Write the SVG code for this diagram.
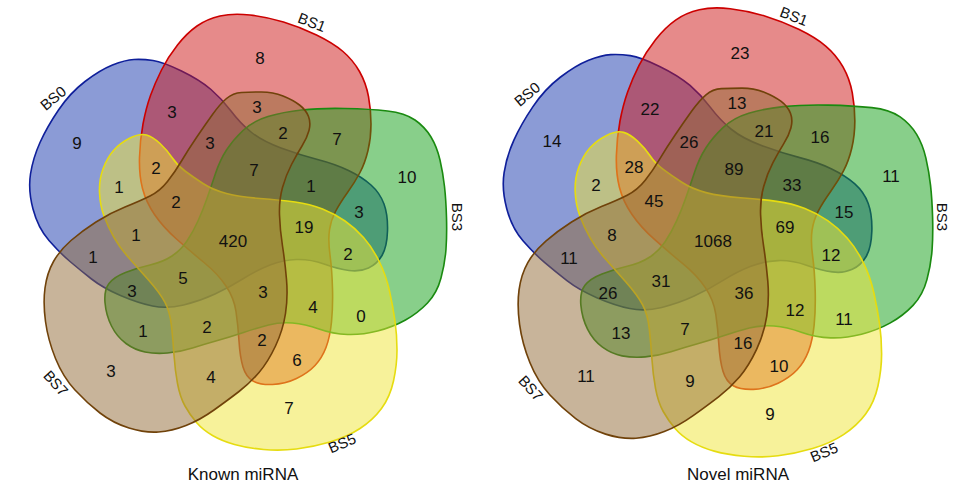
<svg xmlns="http://www.w3.org/2000/svg" xmlns:xlink="http://www.w3.org/1999/xlink" width="957" height="486" viewBox="0 0 957 486">
<style>
.s{stroke-width:1.6;fill-opacity:0.5;stroke-linejoin:round}
.b0{fill:#1737ad;stroke:#0f1f9a}
.b1{fill:#cd1515;stroke:#cc0000}
.b3{fill:#119f15;stroke:#1a8a10}
.b5{fill:#efe535;stroke:#e6dc10}
.b7{fill:#916935;stroke:#70420a}
text{font-family:"Liberation Sans",Arial,sans-serif;fill:#111}
.n{font-size:17px;text-anchor:middle}
.l{font-size:15px;text-anchor:middle;dominant-baseline:central}
.t{font-size:17px;text-anchor:middle}
</style>
<defs>
<path id="p0" d="M 153,60.5 Q 163,62 181.5,71 Q 200,80 211,89.5 Q 222,99 231,111 Q 240,123 251,132 Q 262,141 281,148 Q 300,155 317.5,159.5 Q 335,164 348.5,170.5 Q 362,177 371,185 Q 380,193 384,204 Q 388,215 387.5,231 Q 387,247 382,255.5 Q 377,264 368.5,268 Q 360,272 349,270.5 Q 338,269 324,264 Q 310,259 296.5,259.5 Q 283,260 270,265 Q 257,270 243.5,278.5 Q 230,287 215,294 Q 200,301 183.5,305 Q 167,309 152.5,306 Q 138,303 120.5,295.5 Q 103,288 91.5,279 Q 80,270 70,261.5 Q 60,253 49,240.5 Q 38,228 33,209 Q 28,190 30.5,174 Q 33,158 40,142.5 Q 47,127 58.5,110 Q 70,93 85,81.5 Q 100,70 112.5,65 Q 125,60 134,59.5 Q 143,59 153,60.5 Z"/>
<path id="p1" d="M 250,15 Q 267,17 283.5,22 Q 300,27 316.5,35 Q 333,43 343,51.5 Q 353,60 359.5,71.5 Q 366,83 368.5,96.5 Q 371,110 371,124 Q 371,138 368,150.5 Q 365,163 360,172.5 Q 355,182 347.5,192.5 Q 340,203 335.5,211.5 Q 331,220 329.5,230 Q 328,240 330,255 Q 332,270 332.5,288.5 Q 333,307 331.5,322 Q 330,337 326,347.5 Q 322,358 315,365.5 Q 308,373 296.5,378.5 Q 285,384 272.5,384.5 Q 260,385 253,381 Q 246,377 243,367 Q 240,357 239,341 Q 238,325 236,311.5 Q 234,298 226,286 Q 218,274 204,262.5 Q 190,251 176.5,239 Q 163,227 154.5,214.5 Q 146,202 142.5,188.5 Q 139,175 139.5,157.5 Q 140,140 143,124 Q 146,108 150.5,95.5 Q 155,83 161.5,70 Q 168,57 177.5,45 Q 187,33 197,26 Q 207,19 220,16 Q 233,13 250,15 Z"/>
<path id="p3" d="M 243,130.5 Q 253,121 268,116.5 Q 283,112 301.5,110 Q 320,108 345,108.5 Q 370,109 387.5,111 Q 405,113 415,120 Q 425,127 431,137 Q 437,147 440,160 Q 443,173 444.5,186.5 Q 446,200 446.5,217.5 Q 447,235 446,249 Q 445,263 441,278 Q 437,293 427.5,303 Q 418,313 405.5,320 Q 393,327 377.5,331 Q 362,335 347.5,334.5 Q 333,334 319,329 Q 305,324 292.5,323 Q 280,322 268.5,325 Q 257,328 243.5,332.5 Q 230,337 217.5,340.5 Q 205,344 192.5,348 Q 180,352 167.5,353 Q 155,354 145,352 Q 135,350 126,343.5 Q 117,337 111.5,326 Q 106,315 105,302.5 Q 104,290 109,283.5 Q 114,277 125.5,272.5 Q 137,268 150,265 Q 163,262 172,256 Q 181,250 187,241 Q 193,232 198,221 Q 203,210 207,198.5 Q 211,187 215.5,173.5 Q 220,160 226.5,150 Q 233,140 243,130.5 Z"/>
<path id="p5" d="M 146.5,135 Q 153,137 160,143.5 Q 167,150 172,157.5 Q 177,165 185,171 Q 193,177 203,183.5 Q 213,190 226.5,193.5 Q 240,197 260,198.5 Q 280,200 295,202 Q 310,204 322.5,209 Q 335,214 345,221 Q 355,228 363.5,237.5 Q 372,247 379,261 Q 386,275 389.5,291 Q 393,307 395,321 Q 397,335 397,350 Q 397,365 393.5,381 Q 390,397 381.5,408.5 Q 373,420 360,428.5 Q 347,437 330,442 Q 313,447 296.5,449 Q 280,451 263.5,449.5 Q 247,448 234.5,444.5 Q 222,441 212.5,435.5 Q 203,430 196.5,422.5 Q 190,415 185,406 Q 180,397 177.5,383.5 Q 175,370 174,355 Q 173,340 171.5,326 Q 170,312 165,302.5 Q 160,293 148.5,280 Q 137,267 128.5,257.5 Q 120,248 114,237.5 Q 108,227 104,216 Q 100,205 99.5,192.5 Q 99,180 103,169 Q 107,158 113.5,150.5 Q 120,143 130,138 Q 140,133 146.5,135 Z"/>
<path id="p7" d="M 241.5,92.5 Q 250,92 261.5,92 Q 273,92 283,96 Q 293,100 299.5,105 Q 306,110 308.5,116.5 Q 311,123 309,130.5 Q 307,138 302,146 Q 297,154 291.5,164.5 Q 286,175 282.5,187.5 Q 279,200 279.5,215 Q 280,230 282.5,246 Q 285,262 286.5,279.5 Q 288,297 285.5,313.5 Q 283,330 275.5,346 Q 268,362 259,372.5 Q 250,383 239,391.5 Q 228,400 214,410 Q 200,420 186,425.5 Q 172,431 158.5,432 Q 145,433 129,428 Q 113,423 100,413 Q 87,403 75,390 Q 63,377 55.5,358.5 Q 48,340 45.5,321.5 Q 43,303 45,288 Q 47,273 53.5,261.5 Q 60,250 71,240.5 Q 82,231 96,222 Q 110,213 125,207 Q 140,201 150,196 Q 160,191 167.5,181.5 Q 175,172 181.5,161 Q 188,150 196.5,137.5 Q 205,125 212.5,114.5 Q 220,104 226.5,98.5 Q 233,93 241.5,92.5 Z"/>
</defs>

<!-- Known miRNA -->
<g id="known">
<g id="known-BS0"><use xlink:href="#p0" class="s b0"/><text class="l" transform="translate(53,98) rotate(-40)">BS0</text></g>
<g id="known-BS1"><use xlink:href="#p1" class="s b1"/><text class="l" transform="translate(312,22) rotate(21)">BS1</text></g>
<g id="known-BS3"><use xlink:href="#p3" class="s b3"/><text class="l" transform="translate(457,217) rotate(90)">BS3</text></g>
<g id="known-BS5"><use xlink:href="#p5" class="s b5"/><text class="l" transform="translate(342,443) rotate(-23)">BS5</text></g>
<g id="known-BS7"><use xlink:href="#p7" class="s b7"/><text class="l" transform="translate(56,383) rotate(48)">BS7</text></g>
<g id="known-counts">
<text x="77" y="149" class="n">9</text>
<text x="172" y="118" class="n">3</text>
<text x="260" y="64" class="n">8</text>
<text x="257" y="113" class="n">3</text>
<text x="210" y="149" class="n">3</text>
<text x="283" y="139" class="n">2</text>
<text x="337" y="145" class="n">7</text>
<text x="407" y="183" class="n">10</text>
<text x="254" y="176" class="n">7</text>
<text x="311" y="192" class="n">1</text>
<text x="359" y="218" class="n">3</text>
<text x="156" y="174" class="n">2</text>
<text x="119" y="193" class="n">1</text>
<text x="176" y="208" class="n">2</text>
<text x="233" y="247" class="n">420</text>
<text x="304" y="233" class="n">19</text>
<text x="348" y="260" class="n">2</text>
<text x="136" y="241" class="n">1</text>
<text x="93" y="263" class="n">1</text>
<text x="132" y="297" class="n">3</text>
<text x="183" y="284" class="n">5</text>
<text x="263" y="298" class="n">3</text>
<text x="313" y="313" class="n">4</text>
<text x="361" y="322" class="n">0</text>
<text x="143" y="337" class="n">1</text>
<text x="207" y="333" class="n">2</text>
<text x="262" y="346" class="n">2</text>
<text x="297" y="366" class="n">6</text>
<text x="111" y="377" class="n">3</text>
<text x="211" y="383" class="n">4</text>
<text x="289" y="414" class="n">7</text>
</g>
<text x="243" y="480" class="t">Known miRNA</text>
</g>

<!-- Novel miRNA -->
<g id="novel">
<g transform="translate(472.7,-6.7) scale(1.03)">
<g id="novel-BS0"><use xlink:href="#p0" class="s b0"/></g>
<g id="novel-BS1"><use xlink:href="#p1" class="s b1"/></g>
<g id="novel-BS3"><use xlink:href="#p3" class="s b3"/></g>
<g id="novel-BS5"><use xlink:href="#p5" class="s b5"/></g>
<g id="novel-BS7"><use xlink:href="#p7" class="s b7"/></g>
</g>
<g id="novel-labels">
<text class="l" transform="translate(527,94) rotate(-40)">BS0</text>
<text class="l" transform="translate(794,16) rotate(21)">BS1</text>
<text class="l" transform="translate(942,217) rotate(90)">BS3</text>
<text class="l" transform="translate(824,452) rotate(-23)">BS5</text>
<text class="l" transform="translate(531,388) rotate(48)">BS7</text>
</g>
<g id="novel-counts">
<text x="552" y="147" class="n">14</text>
<text x="650" y="115" class="n">22</text>
<text x="740" y="59" class="n">23</text>
<text x="737" y="109" class="n">13</text>
<text x="689" y="148" class="n">26</text>
<text x="764" y="137" class="n">21</text>
<text x="820" y="143" class="n">16</text>
<text x="891" y="182" class="n">11</text>
<text x="734" y="175" class="n">89</text>
<text x="792" y="191" class="n">33</text>
<text x="844" y="218" class="n">15</text>
<text x="634" y="173" class="n">28</text>
<text x="596" y="191" class="n">2</text>
<text x="654" y="207" class="n">45</text>
<text x="713" y="247" class="n">1068</text>
<text x="785" y="233" class="n">69</text>
<text x="831" y="261" class="n">12</text>
<text x="612" y="241" class="n">8</text>
<text x="569" y="264" class="n">11</text>
<text x="608" y="299" class="n">26</text>
<text x="661" y="287" class="n">31</text>
<text x="744" y="299" class="n">36</text>
<text x="795" y="316" class="n">12</text>
<text x="844" y="325" class="n">11</text>
<text x="621" y="339" class="n">13</text>
<text x="685" y="335" class="n">7</text>
<text x="743" y="349" class="n">16</text>
<text x="779" y="372" class="n">10</text>
<text x="586" y="382" class="n">11</text>
<text x="690" y="387" class="n">9</text>
<text x="770" y="420" class="n">9</text>
</g>
<text x="738" y="480" class="t">Novel miRNA</text>
</g>
</svg>
